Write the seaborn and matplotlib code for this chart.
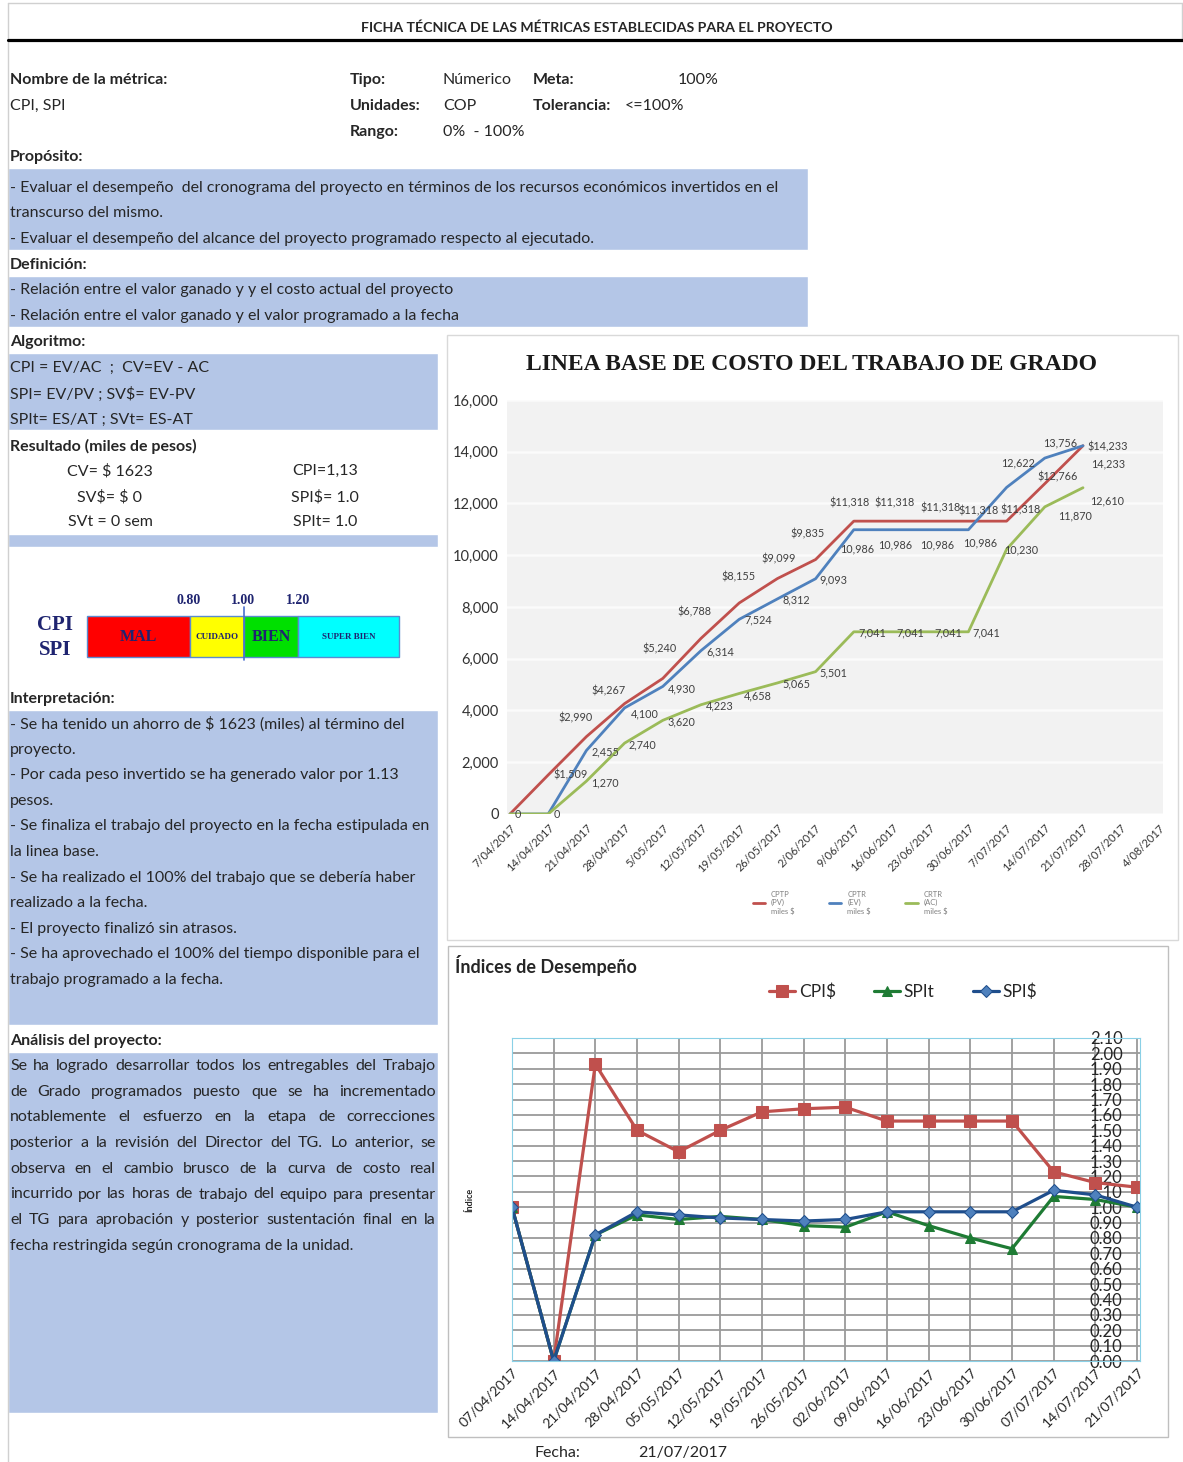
import matplotlib
matplotlib.use("Agg")
import matplotlib.pyplot as plt
from matplotlib.patches import Rectangle
import pandas as pd
import seaborn as sns

W, H = 1183, 1462

# Linea base de costo (miles de pesos)
fechas_costo = ['7/04/2017', '14/04/2017', '21/04/2017', '28/04/2017', '5/05/2017', '12/05/2017',
                '19/05/2017', '26/05/2017', '2/06/2017', '9/06/2017', '16/06/2017', '23/06/2017',
                '30/06/2017', '7/07/2017', '14/07/2017', '21/07/2017', '28/07/2017', '4/08/2017']
pv = [0, 1509, 2990, 4267, 5240, 6788, 8155, 9099, 9835, 11318, 11318, 11318, 11318, 11318, 12766, 14233]
ev = [0, 0, 2455, 4100, 4930, 6314, 7524, 8312, 9093, 10986, 10986, 10986, 10986, 12622, 13756, 14233]
ac = [0, 0, 1270, 2740, 3620, 4223, 4658, 5065, 5501, 7041, 7041, 7041, 7041, 10230, 11870, 12610]
costo_ticks = [0, 2000, 4000, 6000, 8000, 10000, 12000, 14000, 16000]

# Indices de desempeno
fechas_indice = ['07/04/2017', '14/04/2017', '21/04/2017', '28/04/2017', '05/05/2017', '12/05/2017',
                 '19/05/2017', '26/05/2017', '02/06/2017', '09/06/2017', '16/06/2017', '23/06/2017',
                 '30/06/2017', '07/07/2017', '14/07/2017', '21/07/2017']
cpi = [1.00, 0.00, 1.93, 1.50, 1.36, 1.50, 1.62, 1.64, 1.65, 1.56, 1.56, 1.56, 1.56, 1.23, 1.16, 1.13]
spit = [1.00, 0.00, 0.82, 0.95, 0.92, 0.94, 0.92, 0.88, 0.87, 0.97, 0.88, 0.80, 0.73, 1.07, 1.05, 1.00]
spi = [1.00, 0.00, 0.82, 0.97, 0.95, 0.93, 0.92, 0.91, 0.92, 0.97, 0.97, 0.97, 0.97, 1.11, 1.08, 1.00]

# label offsets in pixels (dx, dy downwards)
off_pv = [(22, 0), (-11, -19), (-16, -13), (-3, -30), (-7, -26), (-1, -26), (1, -20), (-8, -26),
          (-4, -18), (3, -18), (10, -13), (10, -10), (14, -11), (13, -7), (25, 1)]
off_ev = [(19, 1), (20, 6), (19, 2), (19, 1), (19, 1), (19, 1), (18, 1), (3, 19), (3, 15), (7, 15),
          (12, 13), (11, -24), (15, -15), (25, 18)]
off_ac = [(8, 1), (9, 1), (19, 2), (18, 2), (19, 2), (19, 1), (19, 2), (19, 1), (18, 1), (18, 1),
          (18, 1), (18, 1), (18, 1), (15, 1), (30, 9), (24, 13)]

sns.set_style("white")
plt.rcParams['font.family'] = ['Lato', 'DejaVu Sans']

BLUE_BOX = '#b4c6e7'
FS = 11.5

fig = plt.figure(figsize=(W / 100, H / 100), dpi=100)
ov = fig.add_axes([0, 0, 1, 1])
ov.set_xlim(0, W)
ov.set_ylim(H, 0)
ov.axis('off')


def txt(x, y, s, bold=False, size=FS, ha='left', **kw):
    return ov.text(x, y, s, fontsize=size, fontweight='bold' if bold else 'normal',
                   ha=ha, va='center', parse_math=False, **kw)


def box(x0, y0, x1, y1, color=BLUE_BOX, **kw):
    ov.add_patch(Rectangle((x0, y0), x1 - x0, y1 - y0, facecolor=color, **kw))


# page frame and header
ov.plot([8, 8], [3, H], color='#d0d0d0', lw=1)
ov.plot([8, 1182], [3, 3], color='#d0d0d0', lw=1)
ov.plot([1182, 1182], [3, 40], color='#d0d0d0', lw=1)
ov.plot([8, 1183], [40, 40], color='black', lw=2.3)
txt(597, 28, 'FICHA TÉCNICA DE LAS MÉTRICAS ESTABLECIDAS PARA EL PROYECTO', bold=True, size=10.2, ha='center')

txt(10, 80, 'Nombre de la métrica:', bold=True)
txt(10, 106, 'CPI, SPI')
txt(350, 80, 'Tipo:', bold=True)
txt(443, 80, 'Númerico')
txt(533, 80, 'Meta:', bold=True)
txt(678, 80, '100%')
txt(350, 106, 'Unidades:', bold=True)
txt(443, 106, 'COP')
txt(533, 106, 'Tolerancia:', bold=True)
txt(625, 106, '<=100%')
txt(350, 132, 'Rango:', bold=True)
txt(443, 132, '0%  - 100%')

txt(10, 157, 'Propósito:', bold=True)
box(8, 168, 808, 250)
txt(10, 188, '- Evaluar el desempeño  del cronograma del proyecto en términos de los recursos económicos invertidos en el')
txt(10, 213, 'transcurso del mismo.')
txt(10, 239, '- Evaluar el desempeño del alcance del proyecto programado respecto al ejecutado.')

txt(10, 265, 'Definición:', bold=True)
box(8, 276, 808, 327)
txt(10, 290, '- Relación entre el valor ganado y y el costo actual del proyecto')
txt(10, 316, '- Relación entre el valor ganado y el valor programado a la fecha')

txt(10, 342, 'Algoritmo:', bold=True)
box(8, 353, 438, 430)
txt(10, 368, 'CPI = EV/AC  ;  CV=EV - AC')
txt(10, 394, 'SPI= EV/PV ; SV$= EV-PV')
txt(10, 420, 'SPIt= ES/AT ; SVt= ES-AT')

txt(10, 446, 'Resultado (miles de pesos)', bold=True)
txt(110, 471, 'CV= $ 1623', ha='center')
txt(325, 471, 'CPI=1,13', ha='center')
txt(110, 497, 'SV$= $ 0', ha='center')
txt(325, 497, 'SPI$= 1.0', ha='center')
txt(110, 522, 'SVt = 0 sem', ha='center')
txt(325, 522, 'SPIt= 1.0', ha='center')
box(8, 534, 438, 547)

# CPI / SPI gauge
NAVY = '#1f2470'
SERIF = ['Liberation Serif', 'DejaVu Serif']
gauge = [(87, 190, '#ff0000', 'MAL', 11.5), (190, 244, '#ffff00', 'CUIDADO', 6.5),
         (244, 298, '#00e000', 'BIEN', 11.5), (298, 399, '#00ffff', 'SUPER BIEN', 6.5)]
for x0, x1, c, lab, fs in gauge:
    box(x0, 616, x1, 657, color=c, edgecolor='#5b8bd0', lw=1)
    ov.text((x0 + x1) / 2, 637, lab, fontsize=fs, fontweight='bold', color=NAVY,
            family=SERIF, ha='center', va='center')
ov.plot([244, 244], [607, 660], color='#4a6fd0', lw=1.2)
for xv, lab in [(189, '0.80'), (243, '1.00'), (298, '1.20')]:
    ov.text(xv, 600, lab, fontsize=10, fontweight='bold', color=NAVY, family=SERIF, ha='center', va='center')
ov.text(55, 625, 'CPI', fontsize=15, fontweight='bold', color=NAVY, family=SERIF, ha='center', va='center')
ov.text(55, 650, 'SPI', fontsize=15, fontweight='bold', color=NAVY, family=SERIF, ha='center', va='center')

txt(10, 699, 'Interpretación:', bold=True)
box(8, 710, 438, 1025)
interp = ['- Se ha tenido un ahorro de $ 1623 (miles) al término del', 'proyecto.',
          '- Por cada peso invertido se ha generado valor por 1.13', 'pesos.',
          '- Se finaliza el trabajo del proyecto en la fecha estipulada en', 'la linea base.',
          '- Se ha realizado el 100% del trabajo que se debería haber', 'realizado a la fecha.',
          '- El proyecto finalizó sin atrasos.',
          '- Se ha aprovechado el 100% del tiempo disponible para el', 'trabajo programado a la fecha.']
for k, line in enumerate(interp):
    txt(10, 724 + k * 25.6, line)

txt(10, 1041, 'Análisis del proyecto:', bold=True)
box(8, 1052, 438, 1413)
analisis = ['Se ha logrado desarrollar todos los entregables del Trabajo',
            'de Grado programados puesto que se ha incrementado',
            'notablemente el esfuerzo en la etapa de correcciones',
            'posterior a la revisión del Director del TG. Lo anterior, se',
            'observa en el cambio brusco de la curva de costo real',
            'incurrido por las horas de trabajo del equipo para presentar',
            'el TG para aprobación y posterior sustentación final en la',
            'fecha restringida según cronograma de la unidad.']
renderer = fig.canvas.get_renderer()
for k, line in enumerate(analisis):
    y = 1066 + k * 25.7
    if k == len(analisis) - 1:
        txt(10, y, line)
        continue
    words = line.split()
    items = [txt(0, y, w) for w in words]
    widths = [t.get_window_extent(renderer).width for t in items]
    gap = (436 - 10 - sum(widths)) / (len(words) - 1)
    x = 10
    for t, w in zip(items, widths):
        t.set_x(x)
        x += w + gap

# chart frames
box(447, 335, 1178, 940, color='white', edgecolor='#d9d9d9', lw=1)
box(448, 946, 1168, 1437, color='white', edgecolor='#bfbfbf', lw=1)
ov.text(812, 364, 'LINEA BASE DE COSTO DEL TRABAJO DE GRADO', fontsize=17, fontweight='bold',
        family=SERIF, ha='center', va='center', color='#1a1a1a')
txt(455, 966, 'Índices de Desempeño', bold=True, size=13)
ov.text(470, 1200, 'Índice', fontsize=6.5, fontweight='bold', rotation=90, ha='center', va='center')
txt(535, 1453, 'Fecha:', size=11.5)
txt(638, 1453, '21/07/2017', size=11.5)

# ---- cost chart ----
sp = 38.2
ax1 = fig.add_axes([507 / W, 1 - 814 / H, (1163 - 507) / W, (814 - 400) / H])
ax1.set_facecolor('#f2f2f2')
series = [(pv, '#c0504d', 'CPTP\n(PV)\nmiles $'), (ev, '#4f81bd', 'CPTR\n(EV)\nmiles $'),
          (ac, '#9bbb59', 'CRTR\n(AC)\nmiles $')]
for vals, col, lab in series:
    df = pd.DataFrame({'x': range(len(vals)), 'y': vals})
    sns.lineplot(data=df, x='x', y='y', color=col, lw=2, ax=ax1, label=lab)


def labels(vals, start, offs, prefix, ax):
    for i, (dx, dy) in zip(range(start, len(vals)), offs):
        ax.annotate(f'{prefix}{vals[i]:,}', (i, vals[i]), xytext=(dx, -dy), textcoords='offset pixels',
                    ha='center', va='center', fontsize=7.8, color='#404040', annotation_clip=False)


labels(pv, 1, off_pv, '$', ax1)
labels(ev, 2, off_ev, '', ax1)
labels(ac, 0, off_ac, '', ax1)

ax1.set_xlim(-3 / sp, (1163 - 510) / sp)
ax1.set_ylim(0, 16000)
ax1.set_yticks(costo_ticks)
ax1.set_yticklabels([f'{v:,}' for v in costo_ticks], fontsize=10.5, color='#333333')
ax1.set_xticks(range(len(fechas_costo)))
ax1.set_xticklabels(fechas_costo, rotation=45, ha='right', rotation_mode='anchor', fontsize=8, color='#333333')
ax1.tick_params(axis='both', length=0, pad=6)
ax1.grid(axis='y', color='#fbfbfb', lw=1.8)
ax1.grid(axis='x', visible=False)
for s in ax1.spines.values():
    s.set_visible(False)
ax1.set_xlabel('')
ax1.set_ylabel('')
ax1.legend(ncol=3, loc='center', bbox_to_anchor=(850 / W, 1 - 903 / H), bbox_transform=fig.transFigure,
           frameon=False, fontsize=5.5, labelcolor='#808080', handlelength=1.6, columnspacing=4.5)

# ---- index chart ----
sp2 = (1137 - 512) / 15
ax2 = fig.add_axes([512 / W, 1 - 1361 / H, (1140 - 512) / W, (1361 - 1038) / H])
idx = pd.DataFrame({'x': range(len(fechas_indice)), 'CPI$': cpi, 'SPIt': spit, 'SPI$': spi})
sns.lineplot(data=idx, x='x', y='CPI$', color='#c0504d', lw=2.3, marker='s', markersize=8,
             markeredgecolor='#c0504d', ax=ax2, label='CPI$')
sns.lineplot(data=idx, x='x', y='SPIt', color='#1e7b34', lw=2.3, marker='^', markersize=7,
             markeredgecolor='#1e7b34', ax=ax2, label='SPIt')
sns.lineplot(data=idx, x='x', y='SPI$', color='#1f4e8c', lw=2.3, marker='D', markersize=6,
             markerfacecolor='#4f81bd', markeredgecolor='#1f4e8c', ax=ax2, label='SPI$')
ax2.set_xlim(0, (1140 - 512) / sp2)
ax2.set_ylim(0, 2.1)
yt = [k / 10 for k in range(22)]
ax2.set_yticks(yt)
ax2.set_yticklabels([f'{v:.2f}' for v in yt], fontsize=12)
ax2.yaxis.tick_right()
ax2.tick_params(axis='y', length=0, pad=-36)
ax2.set_xticks(range(len(fechas_indice)))
ax2.set_xticklabels(fechas_indice, rotation=45, ha='right', rotation_mode='anchor', fontsize=10)
ax2.tick_params(axis='x', length=0, pad=4)
ax2.grid(True, color='#9a9a9a', lw=1.3)
for s in ax2.spines.values():
    s.set_color('#8ad0e6')
ax2.set_xlabel('')
ax2.set_ylabel('')
ax2.legend(ncol=3, loc='center', bbox_to_anchor=(903 / W, 1 - 992 / H), bbox_transform=fig.transFigure,
           frameon=False, fontsize=12.5, handlelength=1.5, handletextpad=0.2, columnspacing=2.2)

fig.savefig('out.png', dpi=100)
